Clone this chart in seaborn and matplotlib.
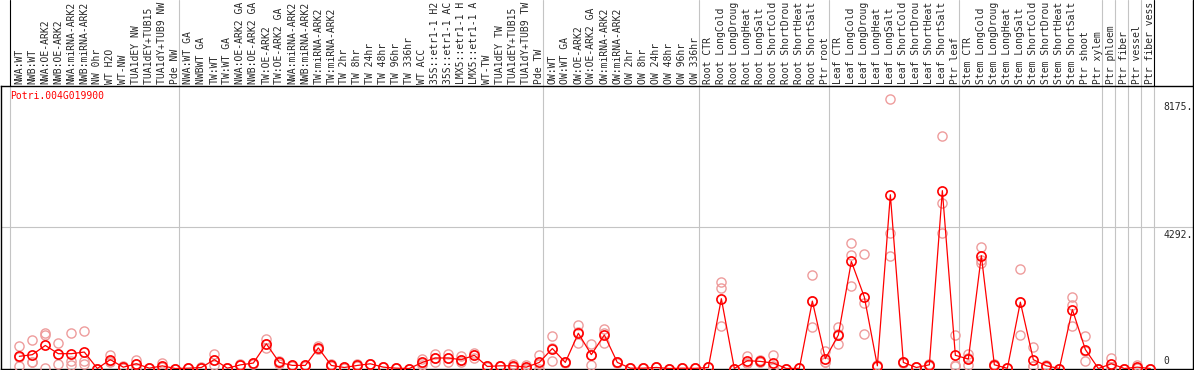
import numpy as np
import pandas as pd
import matplotlib
matplotlib.use('Agg')
import matplotlib.pyplot as plt
import seaborn as sns
from matplotlib.transforms import blended_transform_factory

gene = 'Potri.004G019900'

labels = [
    'NWA:WT', 'NWB:WT', 'NWA:OE-ARK2', 'NWB:OE-ARK2', 'NWA:miRNA-ARK2', 'NWB:miRNA-ARK2',
    'NW 0hr', 'WT H2O', 'WT-NW', 'TUA1dEY NW', 'TUA1dEY+TUB15 NW', 'TUA1dY+TUB9 NW', 'Pde NW',
    'NWA:WT GA', 'NWBWT GA', 'TW:WT', 'TW:WT GA', 'NWA:OE-ARK2 GA', 'NWB:OE-ARK2 GA',
    'TW:OE-ARK2', 'TW:OE-ARK2 GA', 'NWA:miRNA-ARK2', 'NWB:miRNA-ARK2', 'TW:miRNA-ARK2',
    'TW:miRNA-ARK2', 'TW 2hr', 'TW 8hr', 'TW 24hr', 'TW 48hr', 'TW 96hr', 'TW 336hr',
    'WT ACC', '35S::etr1-1 H2O', '35S::etr1-1 ACC', 'LMX5::etr1-1 H2O', 'LMX5::etr1-1 ACC',
    'WT-TW', 'TUA1dEY TW', 'TUA1dEY+TUB15 TW', 'TUA1dY+TUB9 TW', 'Pde TW',
    'OW:WT', 'OW:WT GA', 'OW:OE-ARK2', 'OW:OE-ARK2 GA', 'OW:miRNA-ARK2', 'OW:miRNA-ARK2',
    'OW 2hr', 'OW 8hr', 'OW 24hr', 'OW 48hr', 'OW 96hr', 'OW 336hr',
    'Root CTR', 'Root LongCold', 'Root LongDrought', 'Root LongHeat', 'Root LongSalt',
    'Root ShortCold', 'Root ShortDrought', 'Root ShortHeat', 'Root ShortSalt', 'Ptr root',
    'Leaf CTR', 'Leaf LongCold', 'Leaf LongDrought', 'Leaf LongHeat', 'Leaf LongSalt',
    'Leaf ShortCold', 'Leaf ShortDrought', 'Leaf ShortHeat', 'Leaf ShortSalt', 'Ptr leaf',
    'Stem CTR', 'Stem LongCold', 'Stem LongDrought', 'Stem LongHeat', 'Stem LongSalt',
    'Stem ShortCold', 'Stem ShortDrought', 'Stem ShortHeat', 'Stem ShortSalt', 'Ptr shoot',
    'Ptr xylem', 'Ptr phloem', 'Ptr fiber', 'Ptr vessel', 'Ptr fiber vessel',
]

# first sample of each block (separator lines)
group_starts = [0, 13, 41, 53, 63, 73, 84, 85, 86, 87, 88]

mean_expr = [
    370, 420, 700, 450, 450, 500, 0, 270, 40, 145, 10, 80, 0,
    10, 30, 270, 10, 110, 165, 750, 185, 95, 93, 627, 93, 31, 93, 144, 41, 10, 0,
    185, 319, 319, 268, 401, 62, 82, 82, 41, 185,
    607, 185, 1070, 422, 1019, 185, 10, 10, 31, 0, 10, 5,
    31, 2121, 0, 237, 216, 165, 0, 5, 2048, 299,
    1019, 3252, 2171, 82, 5280, 185, 31, 113, 5404, 401,
    288, 3428, 113, 5, 2017, 268, 82, 0, 1791, 577, 0,
    144, 0, 41, 0,
]

rep1 = [
    680, 865, 1080, 770, 1080, 1140, 0, 400, 90, 270, 20, 165, 0,
    10, 40, 430, 10, 130, 180, 890, 215, 120, 100, 680, 144, 30, 144, 150, 40, 10, 0,
    280, 442, 442, 370, 473, 40, 90, 144, 100, 422,
    988, 200, 1328, 731, 1194, 200, 10, 10, 31, 0, 10, 5,
    31, 2615, 0, 371, 268, 422, 0, 5, 2841, 525,
    1266, 3820, 3489, 100, 8175, 200, 31, 150, 7062, 1008,
    442, 3696, 90, 5, 3026, 648, 120, 0, 1915, 988, 0,
    319, 0, 100, 0,
]

rep2 = [
    90, 185, 1020, 150, 215, 220, 0, 185, 10, 30, 5, 40, 0,
    10, 20, 120, 10, 100, 150, 610, 150, 80, 90, 600, 70, 30, 70, 140, 40, 10, 0,
    113, 200, 185, 185, 319, 70, 80, 50, 0, 0,
    216, 170, 782, 113, 782, 170, 10, 10, 31, 0, 10, 5,
    31, 2461, 0, 170, 190, 10, 0, 5, 1266, 185,
    731, 3459, 1986, 70, 4107, 170, 31, 90, 5024, 113,
    113, 3304, 120, 5, 1008, 82, 60, 0, 1297, 216, 0,
    60, 0, 10, 0,
]

rep3 = [
    340, 210, 30, 430, 120, 140, 0, 225, 20, 135, 5, 35, 0,
    10, 30, 260, 10, 100, 165, 750, 190, 85, 90, 600, 65, 33, 65, 142, 43, 10, 0,
    162, 315, 330, 250, 411, 76, 76, 52, 23, 133,
    617, 185, 1100, 422, 1081, 185, 10, 10, 31, 0, 10, 5,
    31, 1297, 0, 170, 190, 63, 0, 5, 2037, 187,
    1060, 2501, 1038, 76, 3406, 185, 31, 100, 4129, 82,
    310, 3221, 130, 5, 2017, 74, 66, 0, 2161, 527, 0,
    53, 0, 13, 0,
]

W, H = 1194, 370
red = '#ff0000'
pale = '#ee9c9c'
grey = '#c4c4c4'

sns.set_style('white')
plt.rcParams['font.family'] = ['DejaVu Sans Mono']
fs = 7.0
max_chars = 14  # header only has room for 14 characters

df = pd.DataFrame({'pos': np.arange(len(labels)), 'expr': mean_expr})
reps = pd.DataFrame({
    'pos': np.tile(np.arange(len(labels)), 3),
    'expr': np.concatenate([rep1, rep2, rep3]),
    'rep': np.repeat([1, 2, 3], len(labels)),
})

fig = plt.figure(figsize=(W / 100, H / 100), dpi=100)
ax = fig.add_axes([1 / W, 1 / H, 1192 / W, 283 / H])

x0, x1 = -1.408, 90.28
y0, y1 = -15, 8584
ax.set_xlim(x0, x1)
ax.set_ylim(y0, y1)
top_ext = 369 / 283  # axes fraction reaching the top of the figure

# separators and midline
for k in group_starts:
    xv = k - 0.715
    ax.axvline(xv, 0, 1, color=grey, lw=0.8, zorder=1)
    edge = k in (0, 88)
    ax.axvline(xv, 1, top_ext, color='black' if edge else grey, lw=0.8,
               clip_on=False, zorder=1)
ax.axvline(x1, 1, top_ext, color='black', lw=1.0, clip_on=False)
ax.axhline(4292, color=grey, lw=0.8, zorder=1)

# replicates
sns.lineplot(data=reps, x='pos', y='expr', units='rep', estimator=None, ax=ax,
             lw=0, marker='o', markersize=6.6, markerfacecolor='none',
             markeredgecolor=pale, markeredgewidth=1.0, color=pale, zorder=3)
# mean
sns.lineplot(data=df, x='pos', y='expr', ax=ax, color=red, lw=0.9,
             marker='o', markersize=6.6, markerfacecolor='none',
             markeredgecolor=red, markeredgewidth=1.2, zorder=4)

ax.set_xticks([])
ax.set_yticks([])
ax.set_xlabel('')
ax.set_ylabel('')
for s in ax.spines.values():
    s.set_color('black')
    s.set_linewidth(1.0)

# sample names above the plot
trans = blended_transform_factory(ax.transData, fig.transFigure)
for i, lab in enumerate(labels):
    ax.text(i, (H - 84) / H, lab[:max_chars], rotation=90, ha='center', va='bottom',
            fontsize=fs, transform=trans, clip_on=False)

fig.text(10 / W, 1 - 96 / H, gene, color=red, ha='left', va='center', fontsize=fs)

# value labels on the right
trans2 = blended_transform_factory(fig.transFigure, ax.transData)
ax.text(1163 / W, 8175 - 75, '8175.', transform=trans2, ha='left', va='top', fontsize=fs)
ax.text(1163 / W, 4292 - 75, '4292.', transform=trans2, ha='left', va='top', fontsize=fs)
ax.text(1163 / W, 90, '0', transform=trans2, ha='left', va='bottom', fontsize=fs)

fig.savefig('out.png', dpi=100)
